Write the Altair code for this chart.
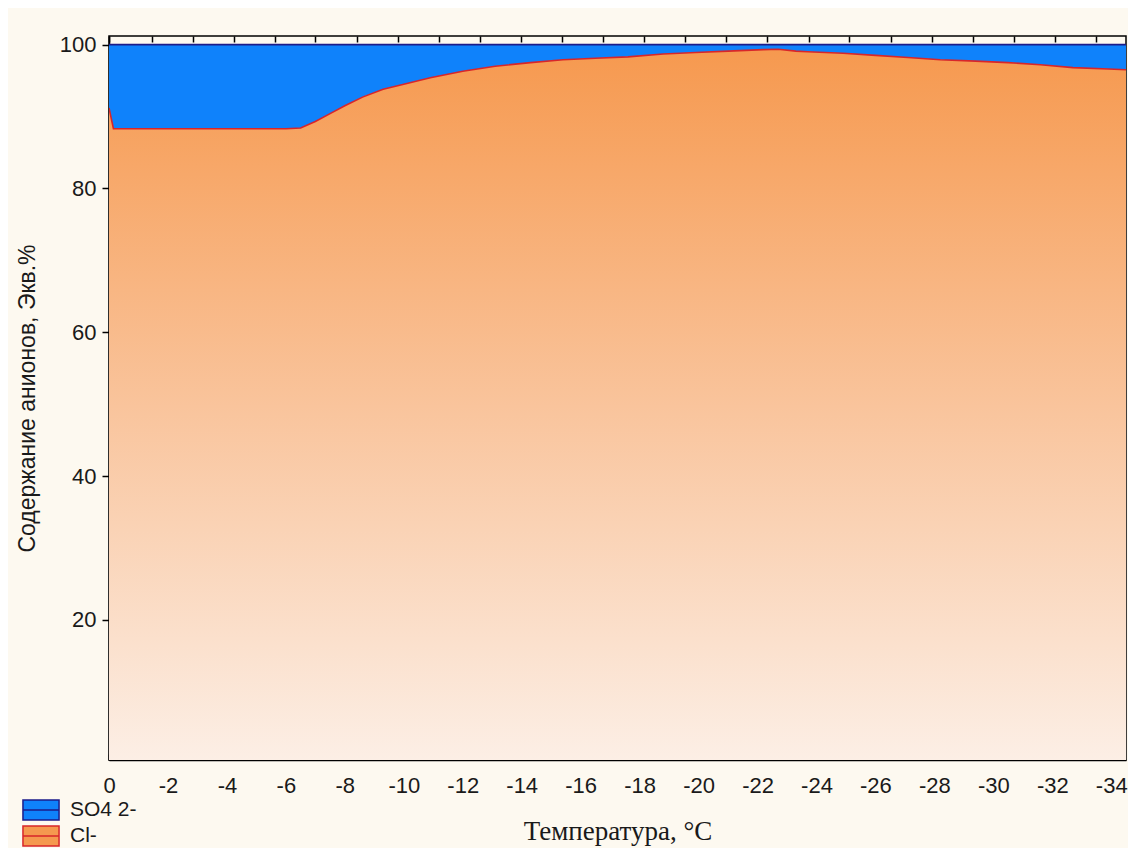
import altair as alt
import pandas as pd

# ---- data ----
temps = [0, -0.15, -1, -2, -3, -4, -5, -6, -6.5, -7, -7.5, -8, -8.6, -9.3, -10,
         -10.9, -12, -13.1, -14.3, -15.4, -16.5, -17.6, -18.8, -19.9, -21.0,
         -22.2, -22.7, -23.3, -23.7, -24.9, -26.0, -27.1, -28.2, -29.4, -30.5,
         -31.6, -32.7, -33.9, -34.5]
cl = [91.2, 88.3, 88.3, 88.3, 88.3, 88.3, 88.3, 88.3, 88.4, 89.3, 90.4, 91.5,
      92.7, 93.8, 94.5, 95.4, 96.3, 97.0, 97.5, 97.9, 98.1, 98.3, 98.7, 98.9,
      99.1, 99.3, 99.35, 99.1, 99.0, 98.8, 98.5, 98.2, 97.9, 97.7, 97.5, 97.2,
      96.8, 96.6, 96.5]
so4 = [8.8, 11.7, 11.7, 11.7, 11.7, 11.7, 11.7, 11.7, 11.6, 10.7, 9.6, 8.5,
       7.3, 6.2, 5.5, 4.6, 3.7, 3.0, 2.5, 2.1, 1.9, 1.7, 1.3, 1.1,
       0.9, 0.7, 0.65, 0.9, 1.0, 1.2, 1.5, 1.8, 2.1, 2.3, 2.5, 2.8,
       3.2, 3.4, 3.5]
series_names = ["SO4 2-", "Cl-"]
fill_colors = ["#0F82FB", "#F5994F"]
line_colors = ["#1C1C8A", "#D8262A"]
x_label_values = [0, -2, -4, -6, -8, -10, -12, -14, -16, -18, -20, -22, -24,
                  -26, -28, -30, -32, -34]
x_minor_ticks = [0, -1.45, -2.85, -4.24, -5.63, -7.0, -8.4, -9.8, -11.2,
                 -12.57, -13.97, -15.36, -16.76, -18.15, -19.55, -20.94,
                 -22.33, -23.73, -25.12, -26.52, -27.91, -29.3, -30.7,
                 -32.09, -33.48]
y_label_values = [20, 40, 60, 80, 100]

df = pd.DataFrame({"t": temps, "cl": cl, "so4": so4})
df["top"] = df["cl"] + df["so4"]
df["series"] = series_names[0]

long = pd.concat([
    pd.DataFrame({"t": temps, "v": df["top"], "series": series_names[0]}),
    pd.DataFrame({"t": temps, "v": cl, "series": series_names[1]}),
], ignore_index=True)

legend_df = pd.DataFrame({"series": series_names})

SANS = "Liberation Sans"
SERIF = "Liberation Serif"
TXT = "#1a1a1a"

xscale = alt.Scale(domain=[-34.5, 0], reverse=True, nice=False, zero=False)
yscale = alt.Scale(domain=[0.5, 101.2], nice=False, zero=False)
fill_scale = alt.Scale(domain=series_names, range=fill_colors)
stroke_scale = alt.Scale(domain=series_names, range=line_colors)

gradient = {
    "gradient": "linear", "x1": 0, "x2": 0, "y1": 0, "y2": 1,
    "stops": [{"offset": 0, "color": "#F6994F"},
              {"offset": 0.5, "color": "#F9C49C"},
              {"offset": 1, "color": "#FCEFE6"}],
}

label_axis = alt.Axis(
    values=x_label_values, orient="bottom", ticks=False, grid=False,
    labelExpr="'' + datum.value", labelFont=SANS, labelFontSize=22,
    labelColor=TXT, labelPadding=15, labelFlush=False,
    domain=True, domainColor="black", domainWidth=1.5,
    title="Температура, °C", titleFont=SERIF, titleFontSize=27,
    titleFontWeight="normal", titleColor=TXT, titlePadding=22,
)
bottom_ticks = alt.Axis(
    values=x_minor_ticks, orient="bottom", labels=False, domain=False,
    grid=False, ticks=True, tickSize=6, tickColor="black", tickWidth=1.5,
    offset=-6, title=None,
)
top_ticks = alt.Axis(
    values=x_minor_ticks, orient="top", labels=False, domain=False,
    grid=False, ticks=True, tickSize=6, tickColor="black", tickWidth=1.5,
    offset=-6, title=None,
)
y_axis = alt.Axis(
    values=y_label_values, orient="left", grid=False, ticks=True, tickSize=7,
    tickColor="black", tickWidth=1.5, labelFont=SANS, labelFontSize=22,
    labelColor=TXT, labelPadding=6, domain=True, domainColor="black",
    domainWidth=1.5, title="Содержание анионов, Экв.%", titleFont=SANS,
    titleFontSize=23, titleFontWeight="normal", titleColor=TXT,
    titlePadding=20,
)

legend_kw = dict(
    title=None, orient="none", legendX=-80, legendY=762,
    symbolType="M-1.64,-0.9H1.64V0.9H-1.64Z M-1.64,0H1.64", symbolSize=484,
    symbolStrokeWidth=1.5, symbolOpacity=1, labelFont=SANS,
    labelFontSize=21, labelColor=TXT, labelOffset=17, rowPadding=0,
    padding=0,
)

base = alt.Chart(df)

cl_area = base.mark_area(fill=gradient, clip=True, interpolate="linear").encode(
    x=alt.X("t:Q", scale=xscale, axis=label_axis),
    y=alt.Y("cl:Q", scale=yscale, axis=y_axis),
)

so4_area = base.mark_area(clip=True, opacity=1).encode(
    x=alt.X("t:Q", scale=xscale, axis=bottom_ticks),
    y=alt.Y("top:Q", scale=yscale, axis=None),
    y2="cl:Q",
    fill=alt.Fill("series:N", scale=fill_scale, legend=alt.Legend(**legend_kw)),
)

lines = alt.Chart(long).mark_line(clip=True, strokeWidth=1.6).encode(
    x=alt.X("t:Q", scale=xscale, axis=top_ticks),
    y=alt.Y("v:Q", scale=yscale, axis=None),
    stroke=alt.Stroke("series:N", scale=stroke_scale, legend=alt.Legend(**legend_kw)),
    detail="series:N",
)

legend_layer = alt.Chart(legend_df).mark_point(opacity=0, filled=True).encode(
    fill=alt.Fill("series:N", scale=fill_scale, legend=alt.Legend(**legend_kw)),
    stroke=alt.Stroke("series:N", scale=stroke_scale, legend=alt.Legend(**legend_kw)),
)

chart = alt.layer(cl_area, so4_area, lines, legend_layer).resolve_axis(
    x="independent", y="independent"
).properties(
    width=1017, height=724,
    padding={"left": 101, "top": 28, "right": 2, "bottom": 88},
    autosize=alt.AutoSizeParams(type="none"),
    background="#FDF9F0",
).configure_view(
    fill="white", stroke="black", strokeWidth=1.5,
)

chart.save("out.html", embed_options={"renderer": "svg", "actions": False})
